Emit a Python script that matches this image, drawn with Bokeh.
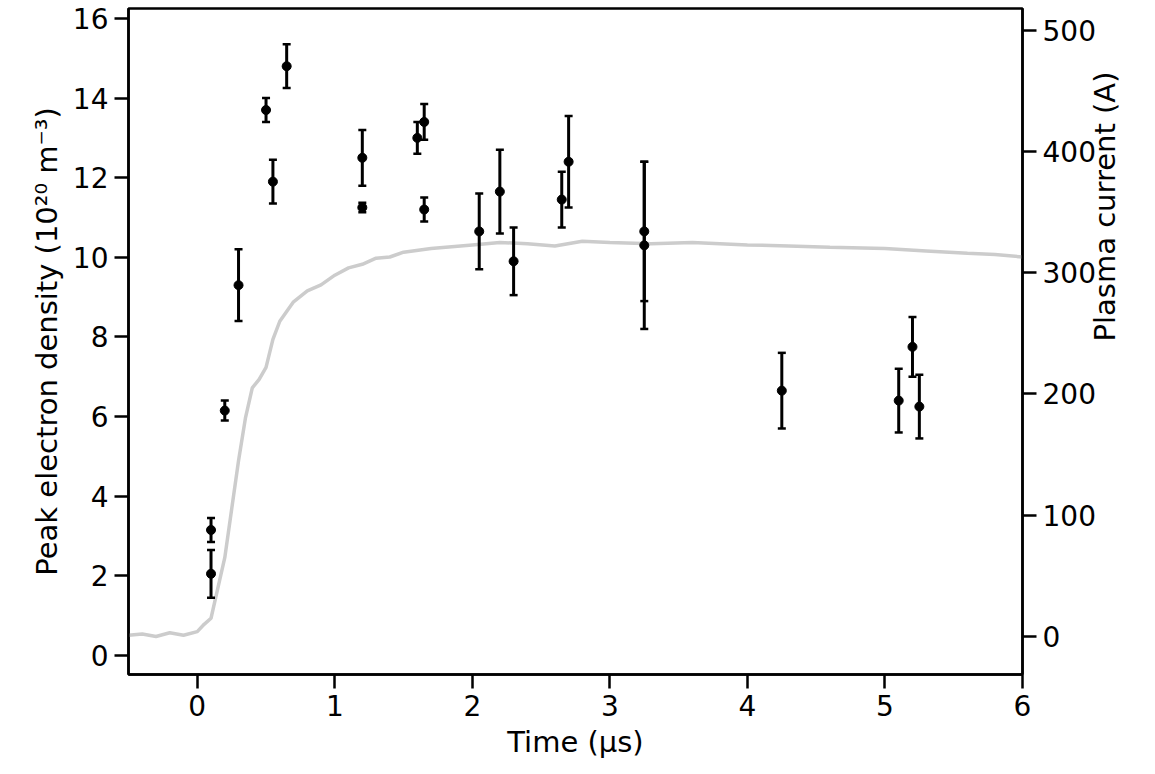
import math
from bokeh.plotting import figure
from bokeh.models import Range1d, LinearAxis, FixedTicker
from bokeh.embed import file_html
from bokeh.resources import INLINE

# density measurements
t_pts = [0.1, 0.1, 0.2, 0.3, 0.5, 0.55, 0.65, 1.2, 1.2, 1.6, 1.65, 1.65, 2.05, 2.2, 2.3, 2.65, 2.7, 3.25, 3.25, 4.25, 5.1, 5.2, 5.25]
ne = [3.15, 2.05, 6.15, 9.3, 13.7, 11.9, 14.8, 12.5, 11.25, 13.0, 13.4, 11.2, 10.65, 11.65, 9.9, 11.45, 12.4, 10.65, 10.3, 6.65, 6.4, 7.75, 6.25]
ne_err = [0.3, 0.6, 0.25, 0.9, 0.3, 0.55, 0.55, 0.7, 0.12, 0.4, 0.45, 0.3, 0.95, 1.05, 0.85, 0.7, 1.15, 1.75, 2.1, 0.95, 0.8, 0.75, 0.8]

# plasma current trace
t_cur = [-0.5, -0.4, -0.3, -0.2, -0.1, 0.0, 0.05, 0.1, 0.15, 0.2, 0.25, 0.3, 0.35, 0.4, 0.45, 0.5, 0.55, 0.6, 0.65, 0.7, 0.8, 0.9, 1.0, 1.1, 1.2, 1.3, 1.4, 1.5, 1.7, 2.0, 2.2, 2.4, 2.6, 2.8, 3.0, 3.3, 3.6, 4.0, 4.3, 4.6, 5.0, 5.3, 5.6, 5.8, 6.0]
i_cur = [1, 2, 0, 3, 1, 4, 10, 15, 40, 65, 105, 145, 180, 205, 212, 222, 245, 260, 268, 276, 285, 290, 298, 304, 307, 312, 313, 317, 320, 323, 325, 324, 322, 326, 325, 324, 325, 323, 322, 321, 320, 318, 316, 315, 313]

FONT = "DejaVu Sans"
p = figure(frame_width=894, frame_height=666, min_border_left=128, min_border_right=125,
           min_border_top=8, min_border_bottom=92, x_range=Range1d(-0.5, 6),
           y_range=Range1d(-0.48, 16.25), output_backend="svg", toolbar_location=None)
p.extra_y_ranges = {"cur": Range1d(-31.4, 518)}
p.grid.visible = False
p.outline_line_color = "black"
p.outline_line_width = 2.5

p.line(t_cur, i_cur, y_range_name="cur", line_color="#cccccc", line_width=3.5)

lo = [v - e for v, e in zip(ne, ne_err)]
hi = [v + e for v, e in zip(ne, ne_err)]
p.segment(t_pts, lo, t_pts, hi, line_color="black", line_width=3)
p.scatter(t_pts, lo, marker="dash", size=8, line_color="black", line_width=2.5)
p.scatter(t_pts, hi, marker="dash", size=8, line_color="black", line_width=2.5)
p.scatter(t_pts, ne, size=9, color="black")

right = LinearAxis(y_range_name="cur", axis_label="Plasma current (A)")
p.add_layout(right, "right")
right.axis_label_orientation = math.pi / 2

p.xaxis.ticker = FixedTicker(ticks=[0, 1, 2, 3, 4, 5, 6])
p.yaxis[0].ticker = FixedTicker(ticks=list(range(0, 17, 2)))
right.ticker = FixedTicker(ticks=[0, 100, 200, 300, 400, 500])
p.xaxis.axis_label = "Time (μs)"
p.yaxis[0].axis_label = "Peak electron density (10²⁰ m⁻³)"

for ax in p.xaxis + p.yaxis:
    ax.axis_line_width = 2.5
    ax.axis_line_color = "black"
    ax.major_tick_line_color = "black"
    ax.major_tick_line_width = 2.5
    ax.major_tick_out = 14
    ax.major_tick_in = 0
    ax.minor_tick_line_color = None
    ax.major_label_text_color = "black"
    ax.axis_label_text_color = "black"
    ax.major_label_text_font = FONT
    ax.major_label_text_font_size = "28px"
    ax.axis_label_text_font = FONT
    ax.axis_label_text_font_size = "29px"
    ax.axis_label_text_font_style = "normal"
    ax.major_label_standoff = 6
    ax.axis_label_standoff = 6

open("out.html", "w").write(file_html(p, INLINE))
